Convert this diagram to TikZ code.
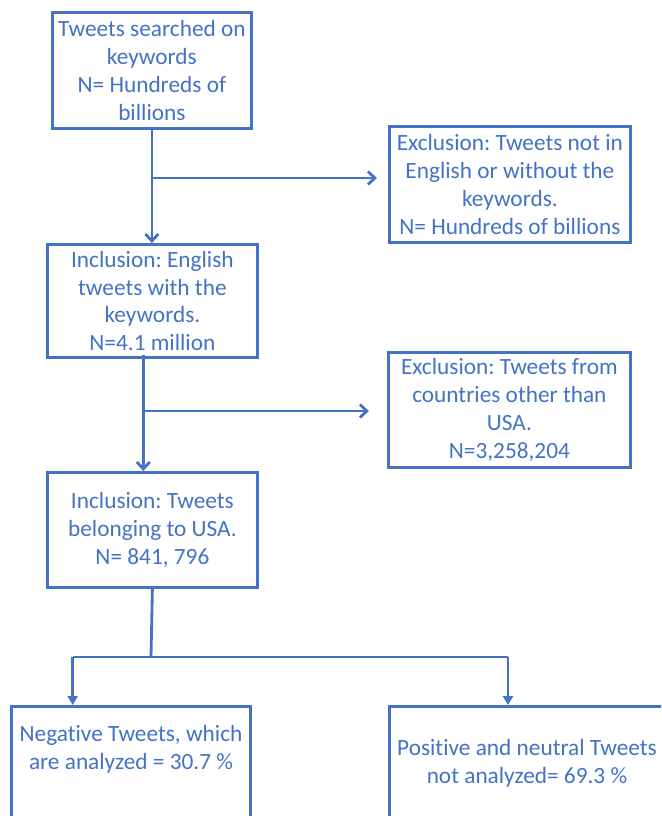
\documentclass[tikz,border=0pt]{standalone}
\usepackage{fontspec}
\setmainfont{Carlito}[Ligatures={NoCommon}]
\usetikzlibrary{arrows.meta}
\definecolor{myblue}{HTML}{4472C4}
\frenchspacing
\begin{document}
\begin{tikzpicture}[x=1pt,y=-1pt,
  box/.style={draw=myblue, line width=2.8pt, text=myblue, align=center, inner sep=0pt, anchor=north west,
    font=\fontsize{23.3}{27.8}\selectfont},
  txt/.style={text=myblue, align=center, inner sep=0pt, font=\fontsize{23.3}{27.8}\selectfont},
  conn/.style={draw=myblue, line width=2.8pt},
  barb/.style={conn, -{Straight Barb[length=7pt,width=13pt]}},
  tri/.style={conn, -{Triangle[length=9pt,width=10pt]}}
]
\clip (0,0) rectangle (661,816);
\useasboundingbox (0,0) rectangle (661,816);

\node[box, minimum width=199pt, minimum height=116pt] (b1) at (51,11)
  {Tweets searched on\\keywords\\N= Hundreds of\\billions};
\node[box, minimum width=241pt, minimum height=116pt] (ex1) at (388,125)
  {Exclusion: Tweets not in\\English or without the\\keywords.\\N= Hundreds of billions};
\node[box, minimum width=210pt, minimum height=113pt] (b2) at (46,243)
  {Inclusion: English\\tweets with the\\keywords.\\N=4.1 million};
\node[box, minimum width=242pt, minimum height=115pt] (ex2) at (387,351)
  {Exclusion: Tweets from\\countries other than\\USA.\\N=3,258,204};
\node[box, minimum width=210pt, minimum height=115pt] (b3) at (46,471)
  {Inclusion: Tweets\\belonging to USA.\\N= 841, 796};
\node[box, minimum width=239pt, minimum height=160pt] (neg) at (10,705) {};
\node[box, minimum width=278pt, minimum height=160pt] (pos) at (388,705) {};
\node[txt] (negt) at (131,749) {Negative Tweets, which\\are analyzed = 30.7 \%};
\node[txt] (post) at (527,763) {Positive and neutral Tweets\\not analyzed= 69.3 \%};

% connectors
\coordinate (j1) at (150.5,178);
\draw[barb] (b1.south) -- (b1.south |- b2.north);
\draw[barb, shorten >=11pt] (j1) -- (ex1.west |- j1);

\coordinate (s2) at (143.3,355);
\coordinate (j2) at (143.3,411);
\draw[barb] (s2) -- (s2 |- b3.north);
\draw[barb, shorten >=18pt] (j2) -- (ex2.west |- j2);

\coordinate (j3) at (151,657);
\coordinate (l3) at (72.7,657);
\coordinate (r3) at (508,657);
\draw[conn] (b3.south) -- (j3);
\draw[conn] (l3) -- (r3);
\draw[tri] (l3) -- (l3 |- neg.north);
\draw[tri] (r3) -- (r3 |- pos.north);
\end{tikzpicture}
\end{document}
